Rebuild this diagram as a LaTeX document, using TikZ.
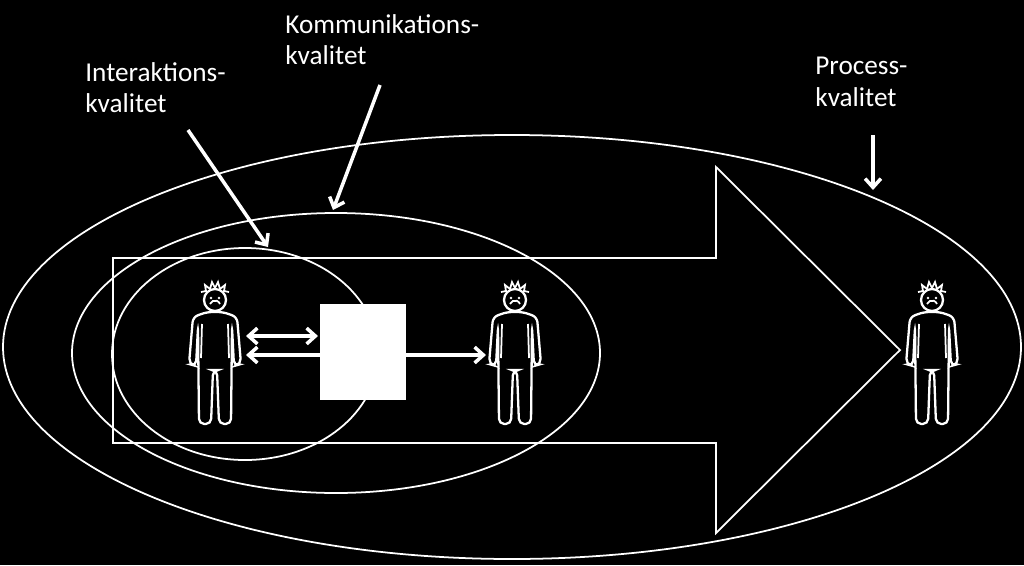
\documentclass[tikz,border=0pt]{standalone}
\usepackage{fontspec}
\setmainfont{Carlito}
\usetikzlibrary{arrows.meta}
\begin{document}
\begin{tikzpicture}[x=0.02cm,y=-0.02cm,
  ln/.style={draw=white,line width=1pt},
  ar/.style={draw=white,line width=2pt,-{Straight Barb[length=5pt,width=9pt]}},
  lbl/.style={text=white,font=\fontsize{15.5}{18}\selectfont,align=left,inner sep=0pt},
  pics/person/.style={code={
    \draw[white,line width=1.3pt,rounded corners=3pt] (-8,0)--(8,0)--(22,5)--(26,52)--(19,54)--(17,15)--(16,112)--(4,112)--(2,58)--(-2,58)--(-4,112)--(-16,112)--(-17,15)--(-19,54)--(-26,52)--(-22,5)--cycle;
    \draw[white,line width=1pt] (13,12)--(14,46) (-13,12)--(-14,46);
    \draw[white,line width=1.3pt] (0,-12) circle (11);
    \draw[white,line width=1pt] (-14,-20)--(-9,-21)--(-10,-27)--(-5,-23)--(-3,-30)--(0,-24)--(3,-30)--(5,-23)--(10,-27)--(9,-21)--(14,-20);
    \fill[white] (-4,-14) circle (1.3) (4,-14) circle (1.3);
    \draw[white,line width=1pt] (-5,-8) arc (200:340:5.3);
  }}]
\fill[black] (0,0) rectangle (1024,565);
\useasboundingbox (0,0) rectangle (1024,565);
\draw[ln] (512,347) ellipse [x radius=509,y radius=212];
\draw[ln] (336,353) ellipse [x radius=264,y radius=140];
\draw[ln] (245,354) ellipse [x radius=133,y radius=106];
\draw[ln] (113,258)--(716,258)--(716,167)--(900,350)--(716,533)--(716,443)--(113,443)--cycle;
\node[fill=white,minimum width=86*0.02cm,minimum height=96*0.02cm,inner sep=0pt] (box) at (363,352) {};
\pic at (215,312) {person};
\pic at (515,312) {person};
\pic at (932,312) {person};
\coordinate (a1) at (246,336); \coordinate (a2) at (318,336);
\coordinate (b1) at (246,355); \coordinate (c2) at (486,355);
\draw[ar,{Straight Barb[length=5pt,width=9pt]}-{Straight Barb[length=5pt,width=9pt]}] (a1)--(a2);
\draw[ar] (box.west|-b1)--(b1);
\draw[ar] (box.east|-c2)--(c2);
\node[lbl,anchor=north west] (li) at (85,62) {Interaktions-\\kvalitet};
\node[lbl,anchor=north west] (lk) at (285,14) {Kommunikations-\\kvalitet};
\node[lbl,anchor=north west] (lp) at (815,57) {Process-\\kvalitet};
\coordinate (ti) at (268,247); \coordinate (tk) at (333,210); \coordinate (tp) at (873,190);
\draw[ar] (188,130)--(ti);
\draw[ar] (380,85)--(tk);
\draw[ar] (873,135)--(tp);
\end{tikzpicture}
\end{document}
